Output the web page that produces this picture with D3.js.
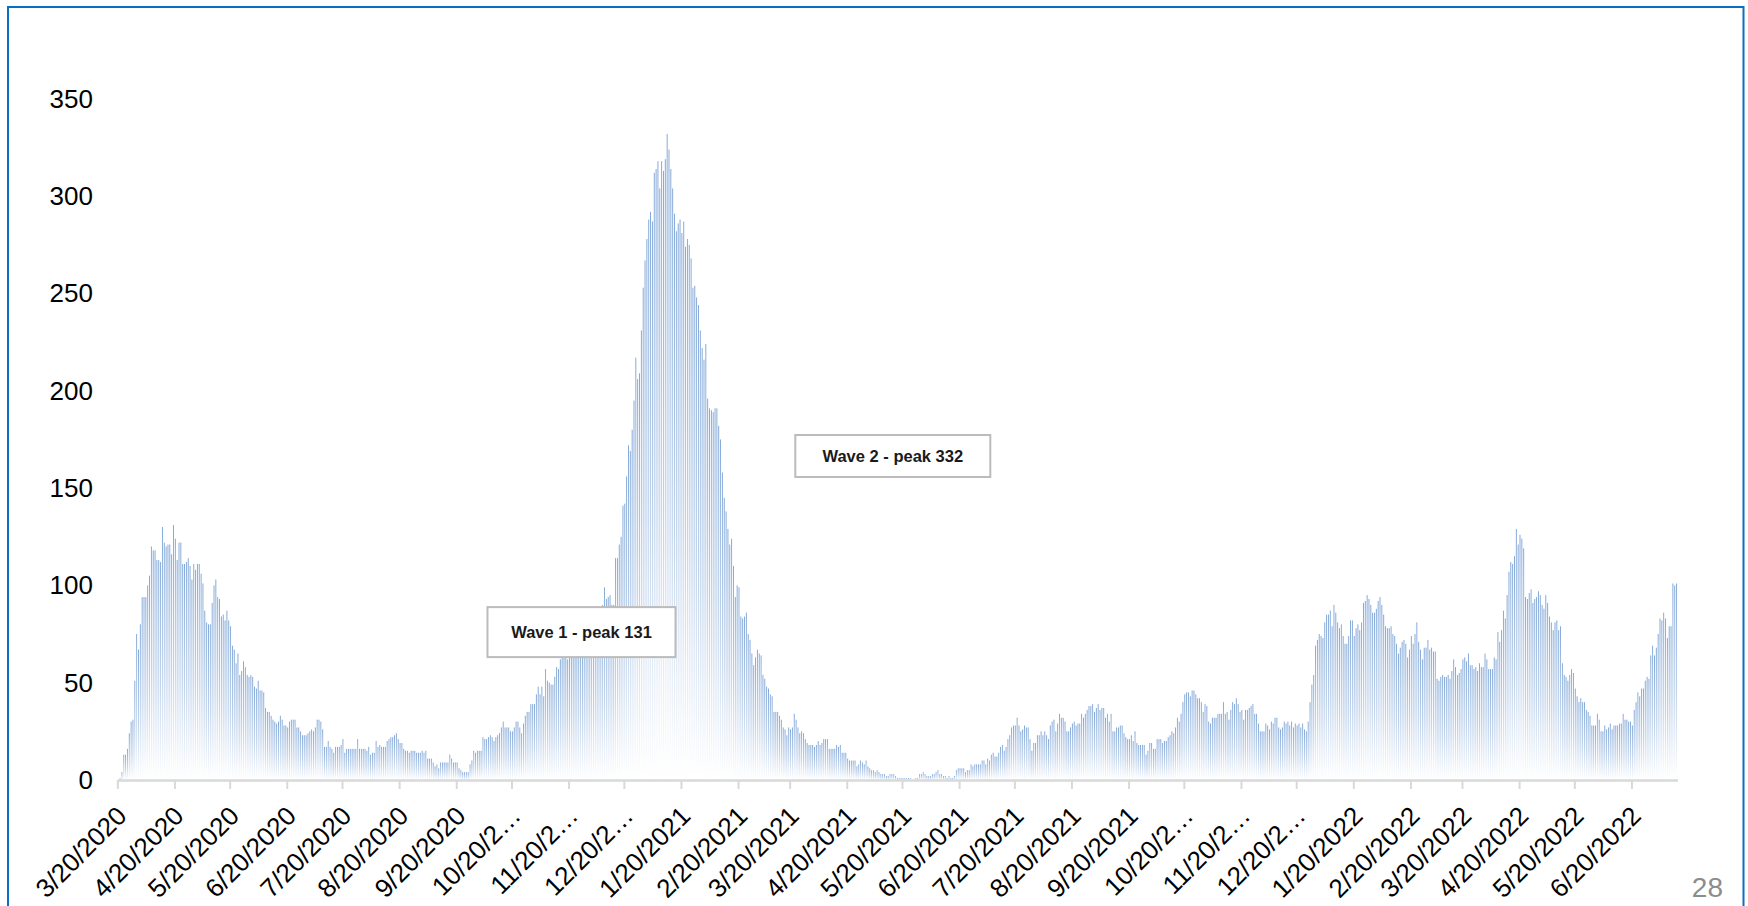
<!DOCTYPE html>
<meta charset="utf-8">
<title>Daily values, waves 1 and 2</title>

<style>
body {
  margin: 0;
  background: #fff;
}
.ylab text, .xlab text {
  font-family: "Liberation Sans", Arial, sans-serif;
  fill: #000;
}
.note text {
  font-family: "Liberation Sans", Arial, sans-serif;
  font-weight: bold;
  fill: #1a1a1a;
}
</style>

<script src="https://d3js.org/d3.v7.min.js"></script>

<div id="my_dataviz"></div>

<script>

// first day of the series
var startDay = [2020, 2, 20];

// one bar per day (3/20/2020 .. 7/14/2022)
var dailyValues = [
  0,1,
  4,13,13,16,24,30,31,51,75,67,
  80,94,94,94,100,105,120,118,118,113,
  113,112,130,122,120,121,121,116,131,124,
  113,122,122,111,111,112,114,110,103,111,
  108,111,111,106,101,87,81,80,80,91,
  100,103,94,93,84,85,82,87,82,79,
  69,67,60,65,54,56,61,58,54,53,
  54,53,48,47,51,46,46,45,37,35,
  35,33,31,30,29,30,33,31,28,28,
  27,30,31,31,31,27,27,25,23,23,
  23,24,25,26,25,27,31,31,30,26,
  17,17,20,17,16,14,17,17,17,18,
  21,14,16,16,16,16,16,16,21,16,
  16,16,16,15,17,13,14,14,20,17,
  18,17,17,17,20,21,
  // mid Aug 2020 ->
  22,22,23,24,21,19,19,16,15,15,
  14,15,15,15,14,14,14,15,14,15,
  11,11,11,9,7,8,6,9,9,9,
  9,9,13,11,9,9,9,6,5,4,
  4,4,4,8,10,15,14,15,15,15,
  22,21,21,22,23,22,20,22,23,24,
  27,30,27,27,27,25,25,27,30,30,
  27,24,29,33,35,35,39,39,39,44,
  48,44,48,43,57,51,50,49,49,53,
  58,57,62,63,63,
  // behind the "Wave 1" box
  64,62,66,68,67,65,70,72,74,71,76,78,80,77,82,84,86,83,87,88,
  // Dec 2020 -> wave 2
  90,99,93,94,95,90,90,114,114,121,
  125,141,142,156,172,169,180,195,217,
  206,209,231,253,267,278,288,292,287,312,
  314,318,304,318,313,319,332,324,314,304,
  291,282,286,288,281,287,274,278,275,268,
  253,254,248,244,231,222,216,224,196,191,
  190,189,191,191,182,175,158,145,138,129,
  121,124,110,94,100,99,84,83,84,
  86,75,72,65,59,63,67,65,64,54,
  52,48,47,44,43,35,35,35,33,
  // Mar 2021 ->
  31,27,26,23,27,26,27,34,31,27,
  24,25,24,21,19,18,18,18,17,18,
  20,18,19,21,21,21,16,16,16,16,
  18,17,18,14,14,14,11,10,10,10,
  10,7,8,10,9,8,10,7,6,5,
  5,4,5,4,3,3,3,2,2,3,
  3,3,2,1,1,1,1,1,1,1,
  1,0,0,1,1,3,3,4,3,2,
  2,2,3,3,4,5,3,3,2,2,
  1,2,1,1,2,5,6,6,6,6,
  4,5,5,8,7,8,8,8,8,10,
  10,8,11,10,13,14,12,12,14,17,
  18,15,17,21,23,27,28,28,32,28,
  // late Jul 2021 ->
  25,26,28,27,27,21,15,19,19,23,
  23,25,23,25,23,21,28,30,31,25,
  29,34,32,32,30,25,25,27,29,30,
  28,29,29,34,32,34,36,38,38,39,
  35,37,39,36,37,37,32,34,30,34,
  25,25,27,27,28,28,24,22,21,21,
  23,20,25,19,18,18,18,18,13,15,
  19,19,16,16,21,21,21,19,20,20,
  22,23,25,24,27,32,30,34,40,44,
  45,45,43,46,46,44,42,42,40,35,
  39,38,30,29,32,32,32,34,34,34,
  40,34,35,31,36,40,39,42,39,35,
  36,31,36,36,37,38,39,34,34,29,
  25,25,25,29,28,26,30,29,32,32,
  27,26,27,30,29,30,28,30,27,29,
  28,29,27,29,26,25,
  // late Dec 2021 ->
  30,40,49,54,69,72,75,74,73,81,
  85,85,87,79,90,86,81,78,80,74,
  70,70,74,82,82,74,78,80,77,81,
  91,92,95,93,90,86,86,88,92,94,
  90,85,79,78,78,79,75,74,70,65,
  68,71,72,70,63,67,74,70,75,81,
  71,67,62,68,68,72,67,68,66,66,
  52,51,53,54,53,53,54,52,56,62,
  58,54,55,57,62,63,61,65,59,59,
  57,58,56,60,58,58,65,62,57,57,
  57,63,62,76,71,
  // Apr 2022 ->
  77,87,83,95,107,112,111,115,129,121,
  126,124,119,94,93,96,98,91,93,94,
  97,95,90,88,95,91,84,81,77,81,
  82,77,79,60,54,53,51,54,57,55,
  47,43,40,42,40,40,36,35,33,28,
  28,28,34,31,25,25,28,26,27,29,
  26,28,28,28,29,29,34,31,31,30,
  30,28,36,40,45,43,47,47,51,53,
  52,64,69,64,68,75,83,82,86,83,
  73,79,79,101,100,101
];

// axis ticks
var yTicks = [0, 50, 100, 150, 200, 250, 300, 350];
var xTickLabels = ["3/20/2020", "4/20/2020", "5/20/2020", "6/20/2020", "7/20/2020",
  "8/20/2020", "9/20/2020", "10/20/2\u2026", "11/20/2\u2026", "12/20/2\u2026",
  "1/20/2021", "2/20/2021", "3/20/2021", "4/20/2021", "5/20/2021", "6/20/2021",
  "7/20/2021", "8/20/2021", "9/20/2021", "10/20/2\u2026", "11/20/2\u2026", "12/20/2\u2026",
  "1/20/2022", "2/20/2022", "3/20/2022", "4/20/2022", "5/20/2022", "6/20/2022"];

// call-outs: text, day index and value of the box centre
var noteTexts = ["Wave 1 - peak 131", "Wave 2 - peak 332"];
var noteDays = [252, 421];
var noteValues = [76, 166.5];

var pageNumber = "28";

// sizes
var W = 1748, H = 906;
var plot = {left: 117.3, right: 1677.5, top: 98.9, bottom: 780};

var svg = d3.select("#my_dataviz")
  .append("svg")
    .attr("width", W)
    .attr("height", H);

// blue slide frame
svg.append("rect")
  .attr("x", 8)
  .attr("y", 7)
  .attr("width", 1735.5)
  .attr("height", 1000)
  .attr("fill", "none")
  .attr("stroke", "#0a6fc2")
  .attr("stroke-width", 2);

// scales
var start = new Date(startDay[0], startDay[1], startDay[2]);
var end = d3.timeDay.offset(start, dailyValues.length);
var x = d3.scaleTime()
  .domain([start, end])
  .range([plot.left, plot.right]);
var y = d3.scaleLinear()
  .domain([0, 350])
  .range([plot.bottom, plot.top]);

var slot = x(d3.timeDay.offset(start, 1)) - x(start);

// gradient of each bar: blue on top, white at the base
var grad = svg.append("defs").append("linearGradient")
  .attr("id", "barFill")
  .attr("x1", 0).attr("y1", 0)
  .attr("x2", 0).attr("y2", 1);
grad.append("stop").attr("offset", "0%").attr("stop-color", "#7aa2d6");
grad.append("stop").attr("offset", "55%").attr("stop-color", "#b9cee9");
grad.append("stop").attr("offset", "100%").attr("stop-color", "#ffffff");

// bars
svg.append("g")
  .selectAll("rect")
  .data(dailyValues)
  .enter()
  .append("rect")
    .attr("x", function(d, i) { return x(d3.timeDay.offset(start, i)) + slot * 0.25; })
    .attr("width", slot * 0.5)
    .attr("y", function(d) { return y(d); })
    .attr("height", function(d) { return y(0) - y(d); })
    .attr("fill", "url(#barFill)");

// Y axis, labels only
var yAxis = svg.append("g")
  .attr("class", "ylab")
  .attr("transform", "translate(93,0)")
  .call(d3.axisLeft(y).tickValues(yTicks).tickSize(0).tickPadding(0));
yAxis.select(".domain").remove();
yAxis.selectAll("text").style("font-size", "26px");

// X axis, a tick on the 20th of each month
var tickDates = xTickLabels.map(function(d, i) { return d3.timeMonth.offset(start, i); });
var xAxis = svg.append("g")
  .attr("class", "xlab")
  .attr("transform", "translate(0," + plot.bottom + ")")
  .call(d3.axisBottom(x)
    .tickValues(tickDates)
    .tickFormat(function(d, i) { return xTickLabels[i]; })
    .tickSize(9)
    .tickSizeOuter(0));
xAxis.select(".domain")
  .attr("stroke", "#d9d9d9")
  .attr("stroke-width", 2.5);
xAxis.selectAll("line")
  .attr("stroke", "#d9d9d9")
  .attr("stroke-width", 2);
xAxis.selectAll("text")
  .attr("x", 0)
  .attr("y", 0)
  .attr("dy", "0.35em")
  .attr("text-anchor", "end")
  .attr("transform", "translate(4,31) rotate(-45)")
  .style("font-size", "26px");

// call-out boxes
var notes = svg.selectAll("g.note")
  .data(noteTexts)
  .enter()
  .append("g")
    .attr("class", "note")
    .attr("transform", function(d, i) {
      return "translate(" + x(d3.timeDay.offset(start, noteDays[i])) + "," + y(noteValues[i]) + ")";
    });
notes.append("rect")
  .attr("x", function(d, i) { return i == 0 ? -94 : -97.5; })
  .attr("y", function(d, i) { return i == 0 ? -25 : -21; })
  .attr("width", function(d, i) { return i == 0 ? 188 : 195; })
  .attr("height", function(d, i) { return i == 0 ? 50 : 42; })
  .attr("fill", "#fff")
  .attr("stroke", "#bcbcbc")
  .attr("stroke-width", 2);
notes.append("text")
  .attr("text-anchor", "middle")
  .attr("dy", "0.35em")
  .style("font-size", "16.5px")
  .text(function(d) { return d; });

// slide number
svg.append("text")
  .attr("x", 1723)
  .attr("y", 897)
  .attr("text-anchor", "end")
  .style("font-family", "'Liberation Sans', Arial, sans-serif")
  .style("font-size", "28px")
  .style("fill", "#8c8c8c")
  .text(pageNumber);

</script>
